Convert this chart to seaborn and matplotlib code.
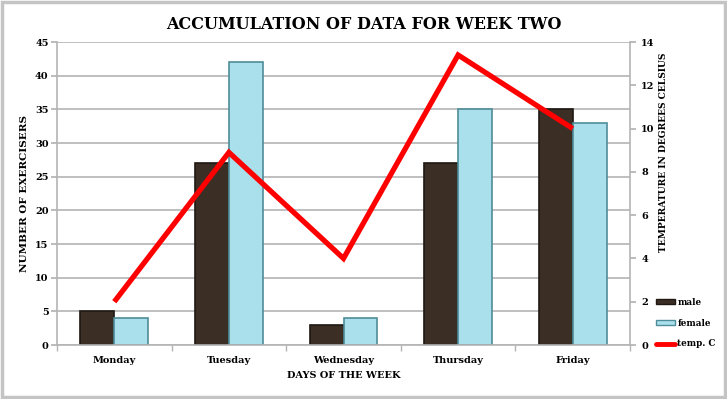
import numpy as np
import pandas as pd
import seaborn as sns
import matplotlib.pyplot as plt
from matplotlib.patches import Rectangle
from matplotlib.lines import Line2D
from matplotlib.patches import Patch

days = ['Monday', 'Tuesday', 'Wednesday', 'Thursday', 'Friday']
male = [5, 27, 3, 27, 35]
female = [4, 42, 4, 35, 33]
temp_c = [2.0, 8.9, 4.0, 13.4, 10.0]

sns.set_theme(style='white')
plt.rcParams['font.family'] = ['DejaVu Serif', 'DejaVu Sans']
plt.rcParams['font.weight'] = 'bold'
plt.rcParams['text.color'] = 'black'
plt.rcParams['axes.labelcolor'] = 'black'
plt.rcParams['xtick.color'] = 'black'
plt.rcParams['ytick.color'] = 'black'

df = pd.DataFrame({
    'day': days * 2,
    'count': male + female,
    'sex': ['male'] * 5 + ['female'] * 5,
})

fig = plt.figure(figsize=(7.27, 3.99), dpi=100)
ax = fig.add_axes([0.0784, 0.1353, 0.7882, 0.7594])

# 柱状图
palette = {'male': '#3b2e25', 'female': '#a9e0ec'}
sns.barplot(data=df, x='day', y='count', hue='sex', palette=palette,
            width=0.59, ax=ax, legend=False, saturation=1)
edge = {'male': '#1f1813', 'female': '#4e8d99'}
for cont, s in zip(ax.containers, ['male', 'female']):
    for bar in cont:
        bar.set_edgecolor(edge[s])
        bar.set_linewidth(1.2)
        bar.set_zorder(2)

ax.set_ylim(0, 45)
ax.set_yticks(np.arange(0, 46, 5))
ax.set_xlim(-0.5, 4.5)
ax.grid(axis='y', color='#b4b4b4', linewidth=1.2, zorder=0)
ax.set_axisbelow(True)
for sp in ['top', 'right']:
    ax.spines[sp].set_visible(False)
ax.spines['left'].set_color('#b4b4b4')
ax.spines['bottom'].set_color('#b4b4b4')
ax.spines['left'].set_linewidth(1.2)
ax.spines['bottom'].set_linewidth(1.2)
ax.tick_params(axis='y', left=True, length=4, color='#b4b4b4', labelcolor='black',
               labelsize=7, pad=2)
ax.set_xticks(range(5))
ax.set_xticklabels(days)
ax.set_xticks(np.arange(-0.5, 5, 1), minor=True)
ax.tick_params(axis='x', which='major', bottom=False, labelsize=7, pad=2)
ax.tick_params(axis='x', which='minor', bottom=True, length=4, color='#b4b4b4')
ax.set_xlabel('DAYS OF THE WEEK', fontsize=7, fontweight='bold', labelpad=4)
ax.set_ylabel('NUMBER OF EXERCISERS', fontsize=7.5, fontweight='bold', labelpad=4)

# 温度折线
ax2 = ax.twinx()
sns.lineplot(x=np.arange(5), y=temp_c, ax=ax2, color='#ff0000', linewidth=3.8,
             solid_joinstyle='miter', solid_capstyle='butt')
ax2.set_ylim(0, 14)
ax2.set_yticks(np.arange(0, 15, 2))
ax2.set_xlim(-0.5, 4.5)
for sp in ['top', 'left', 'bottom']:
    ax2.spines[sp].set_visible(False)
ax2.spines['right'].set_color('#b4b4b4')
ax2.spines['right'].set_linewidth(1.2)
ax2.tick_params(axis='y', right=True, length=4, color='#b4b4b4', labelcolor='black',
                labelsize=7, pad=4)
ax2.set_ylabel('TEMPERATURE IN DEGREES CELSIUS', fontsize=6.6, fontweight='bold')
ax2.yaxis.set_label_coords(1.05, 0.635)

fig.suptitle('ACCUMULATION OF DATA FOR WEEK TWO', fontsize=11.5, fontweight='bold',
             y=0.96, color='black')

handles = [Patch(facecolor='#3b2e25', edgecolor='#1f1813'),
           Patch(facecolor='#a9e0ec', edgecolor='#4e8d99'),
           Line2D([], [], color='#ff0000', linewidth=3.5)]
fig.legend(handles, ['male', 'female', 'temp. C'], loc='lower left',
           bbox_to_anchor=(0.898, 0.118), frameon=False, fontsize=6.3,
           handlelength=2.1, handletextpad=0.3, labelspacing=1.35,
           handleheight=0.4, borderaxespad=0)

# 外框
fig.patches.append(Rectangle((0.003, 0.004), 0.994, 0.992, transform=fig.transFigure,
                             fill=False, edgecolor='#c4c4c4', linewidth=2.5))

plt.savefig('out.png', dpi=100)
plt.close()
